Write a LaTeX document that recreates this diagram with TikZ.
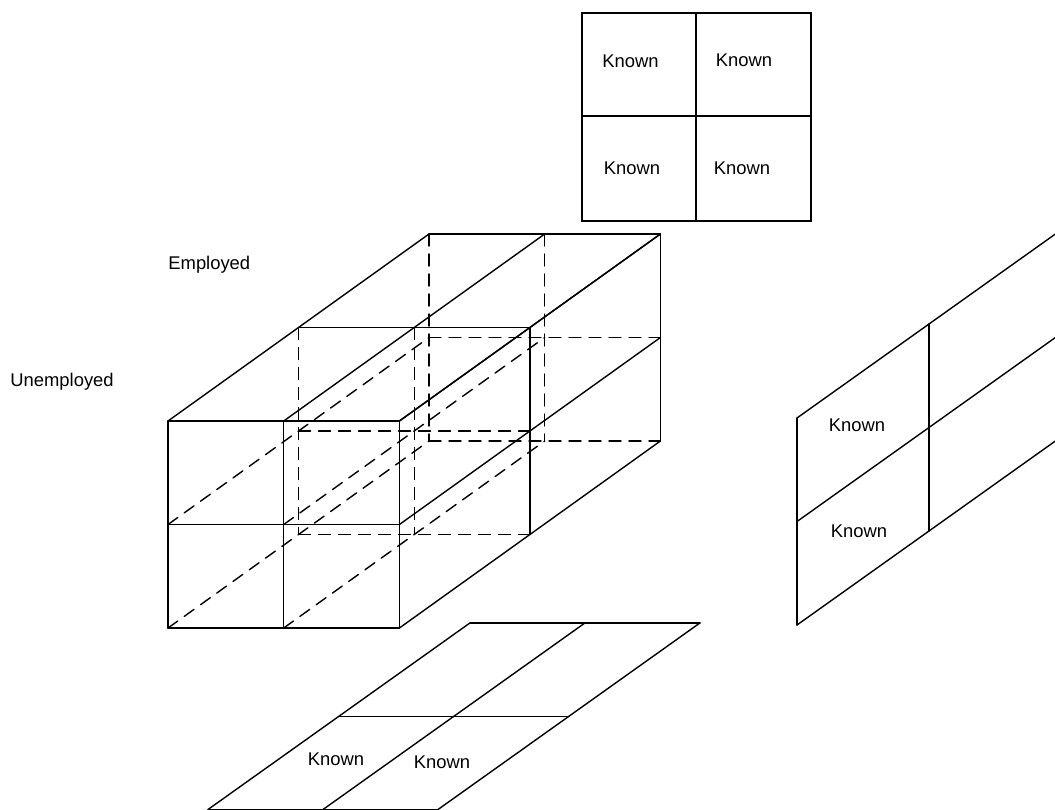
\documentclass[tikz,border=0pt]{standalone}
\usepackage{fontspec}
\setmainfont{Liberation Sans}
\begin{document}
\begin{tikzpicture}[x=0.5pt,y=-0.5pt,
  edge/.style={line width=0.7pt, line cap=round},
  hidden/.style={edge, dash pattern=on 6pt off 4pt},
  lbl/.style={font=\fontsize{9.2}{11}\selectfont, inner sep=0pt}]
\useasboundingbox (0,0) rectangle (1055,809);
\clip (0,0) rectangle (1055,809);

% ---- 2x2x2 block: lattice points c<i><j><k> (i across, j down, k into depth)
\foreach \i in {0,1,2}{\foreach \j in {0,1,2}{\foreach \k in {0,1,2}{
  \coordinate (c\i\j\k) at ({168+115.7*\i+130.5*\k},{421+103.5*\j-93.5*\k});
}}}
% hidden edges
\foreach \i in {0,1}{\foreach \j in {1,2}{\draw[hidden] (c\i\j0) -- (c\i\j2);}}
\foreach \i in {0,1}{\foreach \k in {1,2}{\draw[hidden] (c\i0\k) -- (c\i2\k);}}
\foreach \j in {1,2}{\foreach \k in {1,2}{\draw[hidden] (c0\j\k) -- (c2\j\k);}}
% visible edges: front, top and right faces
\foreach \i in {0,1,2}{\draw[edge] (c\i00) -- (c\i20); \draw[edge] (c\i00) -- (c\i02);}
\foreach \j in {0,1,2}{\draw[edge] (c0\j0) -- (c2\j0); \draw[edge] (c2\j0) -- (c2\j2);}
\foreach \k in {1,2}{\draw[edge] (c00\k) -- (c20\k); \draw[edge] (c20\k) -- (c22\k);}

\node[lbl, anchor=base west] (emp) at (168,269) {Employed};
\node[lbl, anchor=base west] (unemp) at (10,386) {Unemployed};

% ---- front table (2x2)
\coordinate (tA) at (582,13);
\coordinate (tB) at (811,221);
\coordinate (tN) at (696,13);
\coordinate (tS) at (696,221);
\coordinate (tW) at (582,116);
\coordinate (tE) at (811,116);
\draw[edge, line width=0.85pt] (tA) rectangle (tB);
\draw[edge, line width=0.85pt] (tN) -- (tS);
\draw[edge, line width=0.85pt] (tW) -- (tE);
\node[lbl] (k1) at (630.5,61.5) {Known};
\node[lbl] (k2) at (744,60) {Known};
\node[lbl] (k3) at (632,168) {Known};
\node[lbl] (k4) at (742,168) {Known};

% ---- side slice: r<j><k>
\foreach \j in {0,1,2}{\foreach \k in {0,1,2}{
  \coordinate (r\j\k) at ({797+132*\k},{418+103.5*\j-94*\k});
}}
\foreach \k in {0,1,2}{\draw[edge] (r0\k) -- (r2\k);}
\foreach \j in {0,1,2}{\draw[edge] (r\j0) -- (r\j2);}
\node[lbl] (k5) at (857,425) {Known};
\node[lbl] (k6) at (859,531) {Known};

% ---- bottom slice: b<i><k>
\foreach \i in {0,1,2}{\foreach \k in {0,1,2}{
  \coordinate (b\i\k) at ({208+115*\i+131*\k},{809.5-93.3*\k});
}}
\foreach \i in {0,1,2}{\draw[edge] (b\i0) -- (b\i2);}
\foreach \k in {0,1,2}{\draw[edge] (b0\k) -- (b2\k);}
\node[lbl] (k7) at (336,759) {Known};
\node[lbl] (k8) at (442,762) {Known};
\end{tikzpicture}
\end{document}
